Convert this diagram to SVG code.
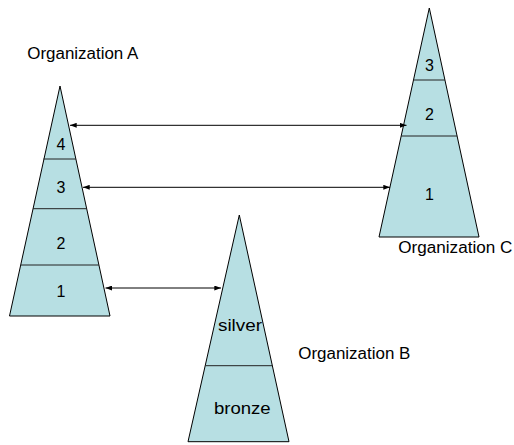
<svg xmlns="http://www.w3.org/2000/svg" width="514" height="445" viewBox="0 0 514 445">
<defs>
<style>
.tri{fill:#b7dfe3;stroke:#000;stroke-width:1}
.div{stroke:#222;stroke-width:1}
.lbl{font-family:"Liberation Sans",Arial,sans-serif;font-size:16px;fill:#000;text-anchor:middle}
.org{font-family:"Liberation Sans",Arial,sans-serif;font-size:16px;fill:#000}
.con{stroke:#000;stroke-width:1;fill:none;marker-start:url(#ah);marker-end:url(#ah)}
</style>
<marker id="ah" viewBox="0 0 8 6" refX="8" refY="3" markerWidth="7" markerHeight="5" markerUnits="userSpaceOnUse" orient="auto-start-reverse">
<path d="M0,0 L8,3 L0,6 Z" fill="#000"/>
</marker>
</defs>
<rect width="514" height="445" fill="#fff"/>
<g id="orgA">
<polygon class="tri" points="60,86 110,316 9.5,316"/>
<line class="div" x1="43.5" y1="159" x2="76" y2="159"/>
<line class="div" x1="33" y1="208.7" x2="86.8" y2="208.7"/>
<line class="div" x1="21" y1="265" x2="98.9" y2="265"/>
<text class="lbl" x="61" y="149.5">4</text>
<text class="lbl" x="61" y="193">3</text>
<text class="lbl" x="61" y="248.5">2</text>
<text class="lbl" x="61" y="296.5">1</text>
<text class="org" x="27.3" y="59" textLength="111" lengthAdjust="spacingAndGlyphs">Organization A</text>
</g>
<g id="orgC">
<polygon class="tri" points="429.3,8 479,237 379,237"/>
<line class="div" x1="413.4" y1="80" x2="445" y2="80"/>
<line class="div" x1="401.2" y1="136" x2="457.1" y2="136"/>
<text class="lbl" x="429.5" y="71">3</text>
<text class="lbl" x="429.5" y="119.5">2</text>
<text class="lbl" x="429.5" y="200.3">1</text>
<text class="org" x="398.3" y="253.3" textLength="114" lengthAdjust="spacingAndGlyphs">Organization C</text>
</g>
<g id="orgB">
<polygon class="tri" points="239.3,215 289,441.7 188,441.7"/>
<line class="div" x1="205.5" y1="365.7" x2="272.3" y2="365.7"/>
<text class="lbl" x="240" y="331" textLength="44" lengthAdjust="spacingAndGlyphs">silver</text>
<text class="lbl" x="242.3" y="414.3" textLength="56.7" lengthAdjust="spacingAndGlyphs">bronze</text>
<text class="org" x="298.3" y="359.3" textLength="112" lengthAdjust="spacingAndGlyphs">Organization B</text>
</g>
<g id="connectors">
<line class="con" x1="70" y1="125.3" x2="406.5" y2="125.3"/>
<line class="con" x1="83" y1="187.3" x2="390" y2="187.3"/>
<line class="con" x1="105.5" y1="288" x2="221" y2="288"/>
</g>
</svg>
